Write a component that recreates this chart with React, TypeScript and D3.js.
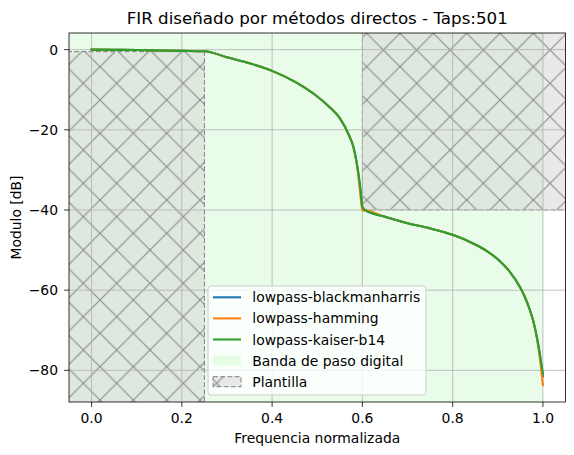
import React from "react";
import * as d3 from "d3";

const freq = [0, 0.05, 0.1, 0.15, 0.2, 0.25, 0.3, 0.35, 0.4, 0.45, 0.5, 0.525, 0.55, 0.57, 0.58, 0.59, 0.595, 0.6, 0.605, 0.65, 0.7, 0.75, 0.8, 0.85, 0.875, 0.9, 0.925, 0.95, 0.96, 0.97, 0.98, 0.99, 1.0];
const blackmanharris = [0, -0.05, -0.1, -0.2, -0.3, -0.4, -1.9, -3.4, -5.3, -8.0, -11.7, -14.1, -17.1, -21.3, -24.2, -30, -34.2, -39.2, -40.0, -41.7, -43.3, -44.6, -46.2, -48.6, -50.2, -52.3, -55.2, -59.4, -61.7, -64.6, -68.3, -73.8, -81.5];
const hamming = [0, -0.05, -0.1, -0.2, -0.3, -0.4, -1.9, -3.4, -5.3, -8.0, -11.7, -14.1, -17.1, -21.3, -24.3, -30.5, -35.5, -40.2, -40.1, -41.7, -43.3, -44.6, -46.2, -48.6, -50.2, -52.3, -55.2, -59.4, -61.7, -64.6, -68.4, -74.3, -83.7];
const kaiser = [0, -0.05, -0.1, -0.2, -0.3, -0.4, -1.9, -3.4, -5.3, -8.0, -11.7, -14.1, -17.1, -21.3, -24.2, -30, -34.2, -39.2, -40.0, -41.7, -43.3, -44.6, -46.2, -48.6, -50.2, -52.3, -55.2, -59.4, -61.7, -64.6, -68.3, -73.8, -80.8];

const seriesNames = ["lowpass-blackmanharris", "lowpass-hamming", "lowpass-kaiser-b14"];
const seriesColors = ["#1f77b4", "#ff7f0e", "#2ca02c"];
const seriesValues = [blackmanharris, hamming, kaiser];

const xTicks = [0, 0.2, 0.4, 0.6, 0.8, 1.0];
const xTickLabels = ["0.0", "0.2", "0.4", "0.6", "0.8", "1.0"];
const yTicks = [0, -20, -40, -60, -80];
const yTickLabels = ["0", "\u221220", "\u221240", "\u221260", "\u221280"];

// plantilla
const passEdge = 0.25;
const passRipple = -0.5;
const stopEdge = 0.6;
const stopAtten = -40;
const bandEnd = 1.0;

const W = 574, H = 455;
const L = 69, R = 565.5, T = 33, B = 402;
const FONT = "DejaVu Sans, sans-serif";

export default function App() {
  const x = d3.scaleLinear().domain([-0.05, 1.05]).range([L, R]);
  const y = d3.scaleLinear().domain([-87.9, 4.15]).range([B, T]);
  const line = d3.line<number>().x((_, i) => x(freq[i])).y((d) => y(d)).curve(d3.curveMonotoneX);
  const hs = 100 / 3;
  const legendRows = [...seriesNames, "Banda de paso digital", "Plantilla"];
  const lx = 208, ly = 286;
  return (
    <svg width={W} height={H} style={{ position: "absolute", left: 0, top: 0, background: "white" }} fontFamily={FONT}>
      <defs>
        <clipPath id="plot"><rect x={L} y={T} width={R - L} height={B - T} /></clipPath>
        <pattern id="hatch" patternUnits="userSpaceOnUse" x={0} y={0} width={hs} height={hs}>
          <path d={`M-5,-5L${hs + 5},${hs + 5}M-5,${hs + 5}L${hs + 5},-5`} stroke="#7f7f7f" strokeOpacity={0.85} strokeWidth={1.2} fill="none" />
        </pattern>
      </defs>
      <rect x={0} y={0} width={W} height={H} fill="white" />
      <g clipPath="url(#plot)">
        <rect x={L} y={T} width={x(bandEnd) - L} height={B - T} fill="#90ee90" fillOpacity={0.2} />
        {/* passband template */}
        <rect x={L - 2} y={y(passRipple)} width={x(passEdge) - L + 2} height={B - y(passRipple) + 2} fill="#d3d3d3" fillOpacity={0.5} />
        <rect x={L - 2} y={y(passRipple)} width={x(passEdge) - L + 2} height={B - y(passRipple) + 2} fill="url(#hatch)" />
        <path d={`M${L - 2},${y(passRipple)}H${x(passEdge)}V${B + 2}`} fill="none" stroke="#808080" strokeWidth={1} strokeDasharray="5,2.2" />
        {/* stopband template */}
        <rect x={x(stopEdge)} y={T - 2} width={R - x(stopEdge) + 2} height={y(stopAtten) - T + 2} fill="#d3d3d3" fillOpacity={0.5} />
        <rect x={x(stopEdge)} y={T - 2} width={R - x(stopEdge) + 2} height={y(stopAtten) - T + 2} fill="url(#hatch)" />
        <path d={`M${x(stopEdge)},${T - 2}V${y(stopAtten)}H${R + 2}`} fill="none" stroke="#808080" strokeOpacity={0.7} strokeWidth={1} strokeDasharray="5,2.2" />
        {/* grid */}
        {xTicks.map((t) => (
          <line key={"gx" + t} x1={x(t)} x2={x(t)} y1={T} y2={B} stroke="#b0b0b0" strokeWidth={0.8} />
        ))}
        {yTicks.map((t) => (
          <line key={"gy" + t} x1={L} x2={R} y1={y(t)} y2={y(t)} stroke="#b0b0b0" strokeWidth={0.8} />
        ))}
        {seriesValues.map((vals, i) => (
          <path key={seriesNames[i]} d={line(vals) || ""} fill="none" stroke={seriesColors[i]} strokeWidth={2.08} strokeLinejoin="round" strokeLinecap="square" />
        ))}
      </g>
      {/* spines */}
      <rect x={L} y={T} width={R - L} height={B - T} fill="none" stroke="black" strokeWidth={0.8} />
      {/* x axis */}
      {xTicks.map((t, i) => (
        <g key={"xt" + t}>
          <line x1={x(t)} x2={x(t)} y1={B} y2={B + 4.9} stroke="black" strokeWidth={0.8} />
          <text x={x(t)} y={423} fontSize={13.9} textAnchor="middle" fill="black">{xTickLabels[i]}</text>
        </g>
      ))}
      {yTicks.map((t, i) => (
        <g key={"yt" + t}>
          <line x1={L - 4.9} x2={L} y1={y(t)} y2={y(t)} stroke="black" strokeWidth={0.8} />
          <text x={L - 11} y={y(t)} dy="0.36em" fontSize={13.9} textAnchor="end" fill="black">{yTickLabels[i]}</text>
        </g>
      ))}
      <text x={(L + R) / 2} y={443} fontSize={13.9} textAnchor="middle" fill="black">Frequencia normalizada</text>
      <text transform={`translate(21,${(T + B) / 2}) rotate(-90)`} fontSize={13.9} textAnchor="middle" fill="black">Modulo [dB]</text>
      <text x={(L + R) / 2} y={24} fontSize={16.7} textAnchor="middle" fill="black">FIR diseñado por métodos directos - Taps:501</text>
      {/* legend */}
      <g>
        <rect x={lx} y={ly} width={218} height={109} rx={3} fill="white" fillOpacity={0.8} stroke="#cccccc" strokeWidth={1} />
        {legendRows.map((name, i) => {
          const cy = 297.3 + i * 21.1;
          let handle;
          if (i < 3) {
            handle = <line x1={213} x2={241} y1={cy} y2={cy} stroke={seriesColors[i]} strokeWidth={2.08} />;
          } else if (i === 3) {
            handle = <rect x={213} y={cy - 5} width={28} height={10} fill="#90ee90" fillOpacity={0.2} />;
          } else {
            handle = (
              <g>
                <rect x={213} y={cy - 5} width={28} height={10} fill="#d3d3d3" fillOpacity={0.5} />
                <rect x={213} y={cy - 5} width={28} height={10} fill="url(#hatch)" />
                <rect x={213} y={cy - 5} width={28} height={10} fill="none" stroke="#808080" strokeWidth={1} strokeDasharray="5,2.2" />
              </g>
            );
          }
          return (
            <g key={name}>
              {handle}
              <text x={252.3} y={cy} dy="0.36em" fontSize={13.9} fill="black">{name}</text>
            </g>
          );
        })}
      </g>
    </svg>
  );
}
